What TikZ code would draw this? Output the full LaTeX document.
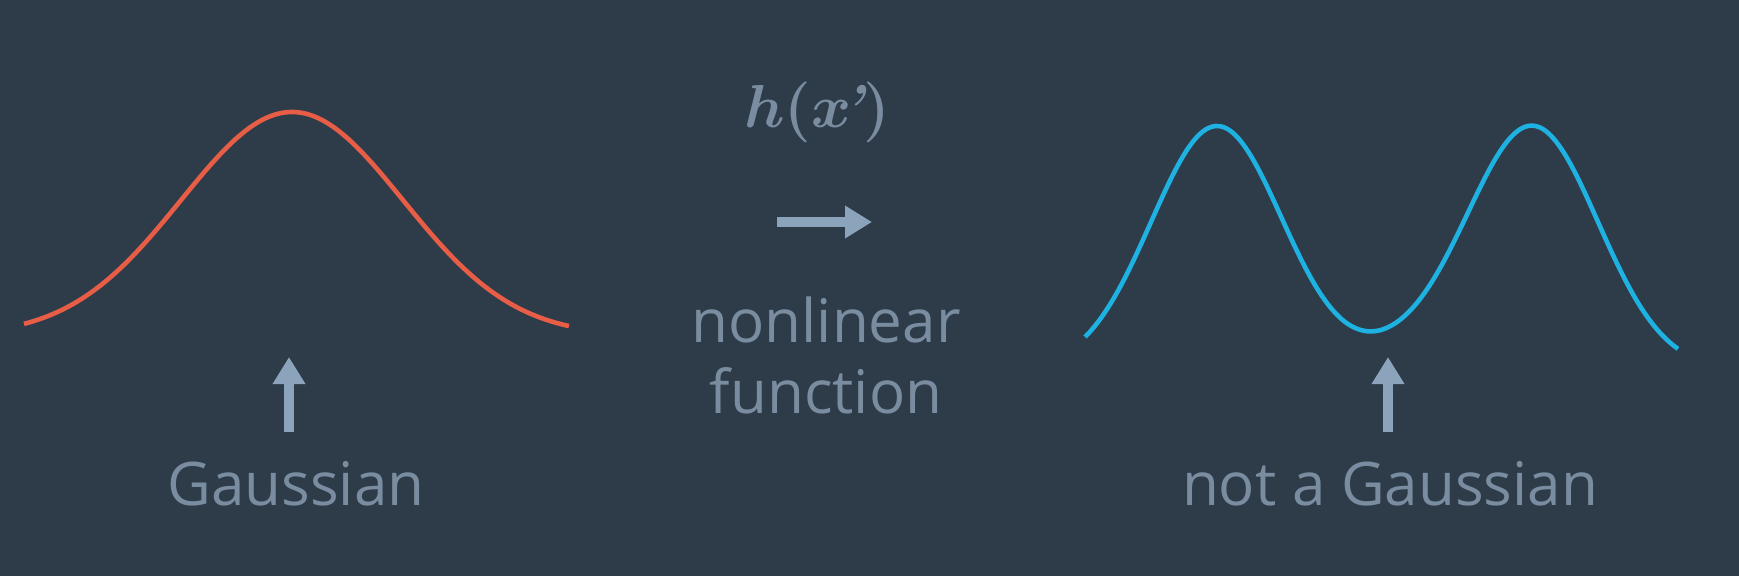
\documentclass[tikz,border=0pt]{standalone}
\usepackage{amsmath}
\usepackage[no-math]{fontspec}
\newfontfamily\labelfont{Open Sans}
\usetikzlibrary{arrows.meta}
\definecolor{slate}{RGB}{46,60,74}
\definecolor{captiongray}{RGB}{122,141,160}
\definecolor{arrowgray}{RGB}{139,163,187}
\definecolor{gaussred}{RGB}{232,93,70}
\definecolor{mixblue}{RGB}{30,178,226}

\begin{document}
\begin{tikzpicture}[
  lbl/.style={font=\labelfont\fontsize{17.1}{20}\selectfont, text=captiongray,
              inner sep=0pt, anchor=base},
  mathlbl/.style={font=\fontsize{17.3}{20}\selectfont, text=captiongray,
              inner sep=0pt, anchor=base},
  pointer/.style={draw=arrowgray, line width=1mm,
              -{Triangle[length=2.7mm,width=3.1mm]}},
  curve/.style={line width=1.3pt}]
\useasboundingbox (0,0) rectangle (17.39,5.76);
\fill[slate] (0,0) rectangle (17.39,5.76);
\node[lbl] (nonlin) at (8.26,2.34) {nonlinear};
\node[lbl] (func)   at (8.26,1.63) {function};
\node[lbl] (gauss)  at (2.96,0.71) {Gaussian};
\node[lbl] (notgauss) at (13.90,0.71) {not a Gaussian};
\node[mathlbl] (hfun) at (8.17,4.49) {$\boldsymbol{h(x}\!\text{\bfseries\itshape\textquoteright}\boldsymbol{)}$};
\coordinate (mapfrom) at (7.77,3.54);
\coordinate (mapto)   at (8.72,3.54);
\coordinate (gaussfoot) at (2.89,1.44);
\coordinate (gausstip)  at (2.89,2.19);
\coordinate (mixfoot) at (13.88,1.44);
\coordinate (mixtip)  at (13.88,2.19);
\draw[pointer] (mapfrom) -- (mapto);
\draw[pointer] (gaussfoot) -- (gausstip);
\draw[pointer] (mixfoot) -- (mixtip);
\draw[curve, gaussred] plot[smooth, samples=160, domain=0.24:5.69]
  (\x, {2.40+2.24*exp(-((\x-2.92)^2)/2.4642)});
\draw[curve, mixblue] plot[smooth, samples=160, domain=10.85:16.78]
  (\x, {2.06+2.44*(exp(-((\x-12.17)^2)/0.8712)+exp(-((\x-15.32)^2)/0.8712))
        +0.12*exp(-((\x-14.0)^2)/0.5)});
\end{tikzpicture}
\end{document}
